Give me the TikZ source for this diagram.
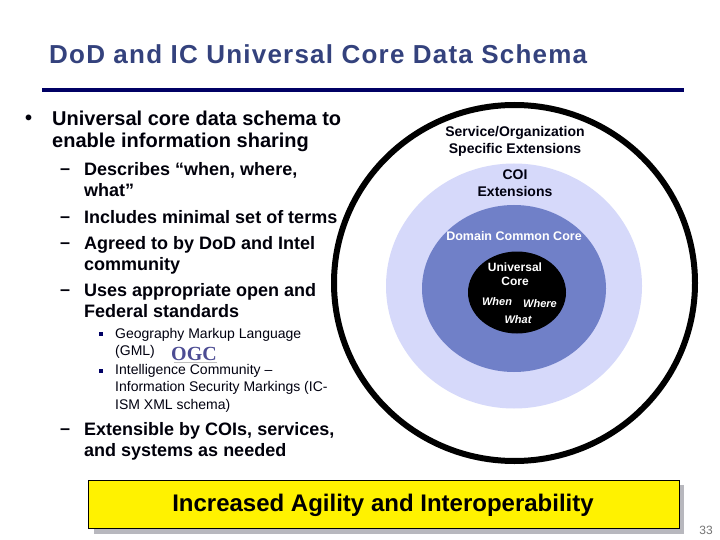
\documentclass[tikz,border=0pt]{standalone}
\usepackage{fontspec}
\setmainfont{Liberation Sans}
\definecolor{navy}{RGB}{0,0,100}
\definecolor{titleblue}{RGB}{52,66,125}
\definecolor{ringlight}{RGB}{214,217,250}
\definecolor{ringmid}{RGB}{112,128,200}
\definecolor{bannershadow}{RGB}{184,184,190}
\newcommand{\fs}[2]{\fontsize{#1}{#2}\selectfont}
\newcommand{\lead}{\vphantom{Ag}}
\tikzset{
  txt/.style={inner sep=0pt,anchor=north west,align=left},
  lvlone/.style={txt,font=\fs{20}{22}\bfseries,text=black!90!navy},
  lvltwo/.style={txt,font=\fs{18}{21.5}\bfseries,text=black!90!navy},
  lvlthree/.style={txt,font=\fs{14}{17.5},text=black!85!navy},
  circ/.style={inner sep=0pt,anchor=center,align=center},
  ringlabel/.style={circ,font=\fs{14}{17}\bfseries,text=black!85!navy},
  corelabel/.style={circ,font=\fs{12}{14.5}\bfseries,text=white},
  wlabel/.style={circ,font=\fs{11}{13}\bfseries\itshape,text=white},
}
\begin{document}
\begin{tikzpicture}[x=1pt,y=-1pt]
\useasboundingbox (0,0) rectangle (720,540);
% title
\node[inner sep=0pt,anchor=base west,font=\fs{26}{28}\bfseries\addfontfeatures{LetterSpace=4.7},text=titleblue] (title) at (49,64) {DoD and IC Universal Core Data Schema};
\coordinate (ruleL) at (42,90); \coordinate (ruleR) at (684,90);
\draw[navy,line width=3.5pt] (ruleL) -- (ruleR);
% circles
\draw[black,line width=6pt,fill=white] (514.500,283) ellipse [x radius=180.500,y radius=178];
\fill[ringlight] (514,286) ellipse [x radius=128,y radius=122.500];
\fill[ringmid] (514,288.500) ellipse [x radius=92,y radius=83.500];
\fill[black] (517,292.500) ellipse [x radius=49,y radius=41];
\node[ringlabel] (svc) at (515,141) {Service/Organization\\Specific Extensions};
\node[ringlabel] (coi) at (515,183) {COI\\Extensions};
\node[circ,font=\fs{12.5}{15}\bfseries,text=white] (dom) at (514,236) {Domain Common Core};
\node[corelabel] (uc) at (515,274) {Universal\\Core};
\node[wlabel] (when) at (497,302) {When};
\node[wlabel] (where) at (540,304) {Where};
\node[wlabel] (what) at (518,320) {What};
% bullets
\node[lvlone] (b0) at (25,111) {\lead •};
\node[lvlone] (t0) at (52,111) {Universal core data schema to\\enable information sharing};
\node[lvltwo] (d1) at (60,162) {\lead –};
\node[lvltwo] (t1) at (84,162) {Describes “when, where,\\what”};
\node[lvltwo] (d2) at (60,210) {\lead –};
\node[lvltwo] (t2) at (84,210) {Includes minimal set of terms};
\node[lvltwo] (d3) at (60,236) {\lead –};
\node[lvltwo] (t3) at (84,236) {Agreed to by DoD and Intel\\community};
\node[lvltwo] (d4) at (60,283) {\lead –};
\node[lvltwo] (t4) at (84,283) {Uses appropriate open and\\Federal standards};
\fill[navy] (99,332) rectangle (103,336);
\node[lvlthree] (s1) at (115,328) {Geography Markup Language\\(GML)};
\node[inner sep=0pt,font=\fontspec{Liberation Serif}\fs{20}{20}\bfseries,text=navy!70!white] (ogc) at (194,354) {OGC};
\draw[black!25,line width=0.6pt] (174,362.500) -- (217,362.500);
\fill[navy] (99,369) rectangle (103,373);
\node[lvlthree] (s2) at (115,364) {Intelligence Community –\\Information Security Markings (IC-\\ISM XML schema)};
\node[lvltwo] (d5) at (60,422) {\lead –};
\node[lvltwo] (t5) at (84,422) {Extensible by COIs, services,\\and systems as needed};
% banner
\fill[bannershadow] (94,485) rectangle (684,534);
\node[draw=black,line width=0.8pt,fill=yellow,minimum width=591pt,minimum height=48pt,inner sep=0pt,anchor=north west] (banner) at (88,480) {};
\node[inner sep=0pt,font=\fs{24}{26}\bfseries,text=black] (bt) at (383,505) {Increased Agility and Interoperability};
\node[inner sep=0pt,anchor=base east,font=\fs{12}{14},text=black!55] (pg) at (713,534) {33};
\end{tikzpicture}
\end{document}
